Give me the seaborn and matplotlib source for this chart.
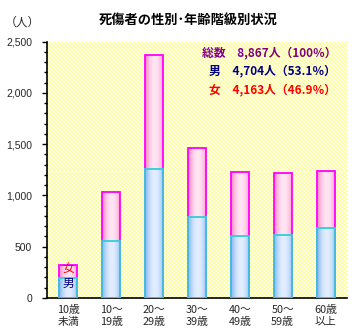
import numpy as np
import pandas as pd
import matplotlib
matplotlib.use("Agg")
import matplotlib.pyplot as plt
from matplotlib.colors import ListedColormap, LinearSegmentedColormap
from matplotlib.ticker import MultipleLocator, FuncFormatter
import seaborn as sns

# 年齢階級別の死傷者数（人）
age_groups = ["10歳\n未満", "10～\n19歳", "20～\n29歳", "30～\n39歳", "40～\n49歳", "50～\n59歳", "60歳\n以上"]
male = [195, 560, 1260, 790, 603, 610, 686]
female = [125, 475, 1106, 678, 622, 606, 551]
total = [m + f for m, f in zip(male, female)]

summary_labels = ["総数", "男", "女"]
summary_counts = [8867, 4704, 4163]
summary_pcts = ["100", "53.1", "46.9"]

sns.set_theme(style="white")
jp = ["Noto Sans CJK JP", "DejaVu Sans"]
plt.rcParams["font.family"] = jp

df = pd.DataFrame({"age": age_groups, "male": male, "total": total})

fig = plt.figure(figsize=(3.6, 3.33), dpi=100)
ax = fig.add_axes([47 / 360, 35 / 333, 300 / 360, 256.3 / 333])

# checkered pale-yellow plot background
ny, nx = 128, 150
ii, jj = np.indices((ny, nx))
checker = (ii + jj) % 2
ax.imshow(checker, extent=(-0.5, 6.5, 0, 2500), aspect="auto",
          interpolation="nearest", cmap=ListedColormap(["white", "#FFFF8C"]), zorder=0)

bar_w = 0.42
sns.barplot(data=df, x="age", y="total", order=age_groups, ax=ax, width=bar_w,
            facecolor="none", edgecolor="#FF00FF", linewidth=1.3, zorder=3)
n_total = len(ax.patches)
sns.barplot(data=df, x="age", y="male", order=age_groups, ax=ax, width=bar_w,
            facecolor="none", edgecolor="#33CCDD", linewidth=1.3, zorder=4)

# cylinder-like horizontal shading inside each bar
prof = np.linspace(0, 1, 64)
shade = np.clip(np.cos((prof - 0.55) * np.pi * 1.1), 0, 1) ** 0.8
shade = shade[np.newaxis, :]
pink = LinearSegmentedColormap.from_list("pink", ["#FF99CC", "#FFE6F4"])
blue = LinearSegmentedColormap.from_list("blue", ["#99C2F2", "#E2EEFF"])
for k, p in enumerate(ax.patches):
    x0, y0 = p.get_x(), p.get_y()
    w, h = p.get_width(), p.get_height()
    cm = pink if k < n_total else blue
    z = 1 if k < n_total else 2
    ax.imshow(shade, extent=(x0, x0 + w, y0, y0 + h), aspect="auto",
              cmap=cm, vmin=0, vmax=1, interpolation="bilinear", zorder=z)

ax.set_xlim(-0.5, 6.5)
ax.set_ylim(0, 2500)
ax.set_xlabel("")
ax.set_ylabel("")

for s in ["top", "right"]:
    ax.spines[s].set_visible(False)
for s in ["left", "bottom"]:
    ax.spines[s].set_color("black")
    ax.spines[s].set_linewidth(1.2)

ax.yaxis.set_major_locator(MultipleLocator(500))
ax.yaxis.set_minor_locator(MultipleLocator(100))
ax.yaxis.set_major_formatter(FuncFormatter(lambda v, _: f"{int(v):,}"))
ax.tick_params(axis="y", which="major", direction="out", length=3.6, width=1,
               color="black", pad=7, labelsize=7.5, left=True)
ax.tick_params(axis="y", which="minor", direction="out", length=2.2, width=1,
               color="black", left=True)
for lab in ax.get_yticklabels():
    lab.set_fontfamily(["Liberation Sans", "DejaVu Sans"])
ax.tick_params(axis="x", length=0, pad=5, labelsize=7.8)
ax.set_xticks(range(len(age_groups)))
ax.set_xticklabels(age_groups, linespacing=1.25)

# labels inside the first bar
ax.text(0, 293, "女", color="red", ha="center", va="center", fontsize=8.5, zorder=6)
ax.text(0, 140, "男", color="#000080", ha="center", va="center", fontsize=8.5, zorder=6)

fig.text(188 / 360, 1 - 20 / 333, "死傷者の性別･年齢階級別状況", ha="center", va="center",
         fontsize=9.5, fontweight="bold", color="black")
fig.text(22 / 360, 1 - 22 / 333, "（人）", ha="center", va="center", fontsize=8.5)

summary_colors = ["#800080", "#000080", "#FF0000"]
summary_y = [53, 71, 90]
for lab, cnt, pct, col, yy in zip(summary_labels, summary_counts, summary_pcts,
                                  summary_colors, summary_y):
    fig.text(336 / 360, 1 - yy / 333, f"{lab}　{cnt:,}人（{pct}％）", ha="right",
             va="center", fontsize=8.5, fontweight="bold", color=col)

fig.savefig("out.png", dpi=100, facecolor="white")
